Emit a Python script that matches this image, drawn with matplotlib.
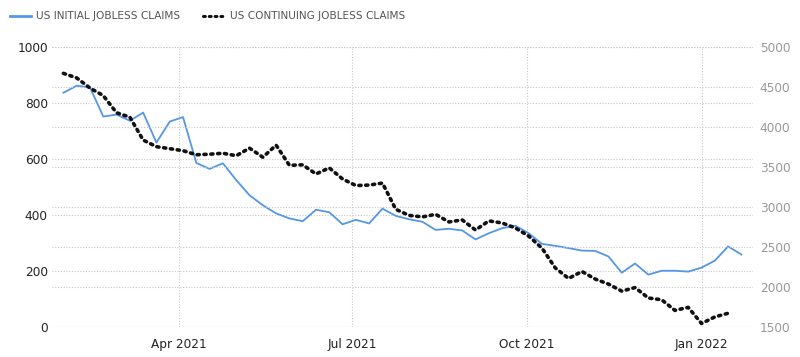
import matplotlib
matplotlib.use("Agg")
import matplotlib.pyplot as plt
import matplotlib.dates as mdates
import numpy as np
import pandas as pd


# weekly values (thousands)
initial_claims = [837, 862, 856, 752, 759, 737, 766, 659, 734, 750,
                  586, 565, 585, 525, 471, 435, 406, 388, 378, 419,
                  410, 367, 383, 370, 423, 397, 385, 376, 347, 351,
                  345, 313, 335, 353, 362, 335, 297, 290, 282, 273,
                  272, 252, 194, 227, 187, 201, 201, 198, 212, 237,
                  288, 259]

continuing_claims = [4672, 4615, 4488, 4394, 4179, 4124, 3838, 3755, 3730, 3705,
                     3654, 3661, 3673, 3642, 3737, 3623, 3774, 3522, 3528, 3414,
                     3490, 3351, 3269, 3275, 3300, 2972, 2896, 2877, 2909, 2814,
                     2839, 2713, 2827, 2801, 2738, 2637, 2486, 2239, 2107, 2195,
                     2100, 2037, 1949, 1993, 1863, 1841, 1708, 1746, 1544, 1626,
                     1672]

initial_dates = pd.date_range("2021-01-30", periods=len(initial_claims), freq="7D")
continuing_dates = pd.date_range("2021-01-30", periods=len(continuing_claims), freq="7D")

left_ticks = [0, 200, 400, 600, 800, 1000]
right_ticks = [1500, 2000, 2500, 3000, 3500, 4000, 4500, 5000]

blue = "#5596e6"
grid_color = "#c8c8c8"

fig = plt.figure(figsize=(8, 3.57), dpi=100)
ax = fig.add_axes([0.065, 0.084, 0.876, 0.784])
ax2 = ax.twinx()

ax.plot(initial_dates, initial_claims, color=blue, lw=1.3, zorder=3,
        solid_joinstyle="round")
ax2.plot(continuing_dates, continuing_claims, color="#111111", lw=2.6,
         linestyle=(0, (0.6, 1.3)), dash_capstyle="round", zorder=3)

ax.set_ylim(0, 1000)
ax2.set_ylim(1500, 5000)
ax.set_yticks(left_ticks)
ax2.set_yticks(right_ticks)
ax.set_xlim(pd.Timestamp("2021-01-24"), pd.Timestamp("2022-01-28"))

ax.xaxis.set_major_locator(mdates.MonthLocator(bymonth=[1, 4, 7, 10]))
ax.xaxis.set_major_formatter(mdates.DateFormatter("%b %Y"))

# dotted grid for both y axes and quarter lines
ax.grid(True, axis="both", linestyle=(0, (1, 1.5)), color=grid_color, lw=0.8)
ax2.grid(True, axis="y", linestyle=(0, (1, 1.5)), color=grid_color, lw=0.8)
ax.set_axisbelow(True)
ax2.set_axisbelow(True)

for a in (ax, ax2):
    for s in a.spines.values():
        s.set_visible(False)

ax.tick_params(axis="y", length=0, pad=3, labelsize=8.7, labelcolor="#222222")
ax.tick_params(axis="x", length=0, pad=8, labelsize=8.7, labelcolor="#222222")
ax2.tick_params(axis="y", length=0, pad=5, labelsize=8.7, labelcolor="#999999")

h1, = ax.plot([], [], color=blue, lw=2)
h2, = ax.plot([], [], color="#111111", lw=2.2, linestyle=(0, (0.6, 1.3)),
              dash_capstyle="round")
fig.legend([h1, h2], ["US INITIAL JOBLESS CLAIMS", "US CONTINUING JOBLESS CLAIMS"],
           loc="upper left", bbox_to_anchor=(0.0, 0.995), ncol=2, frameon=False,
           fontsize=7.6, handlelength=2.0, handletextpad=0.5, columnspacing=2.2,
           labelcolor="#555555")

fig.savefig("out.png", dpi=100)
